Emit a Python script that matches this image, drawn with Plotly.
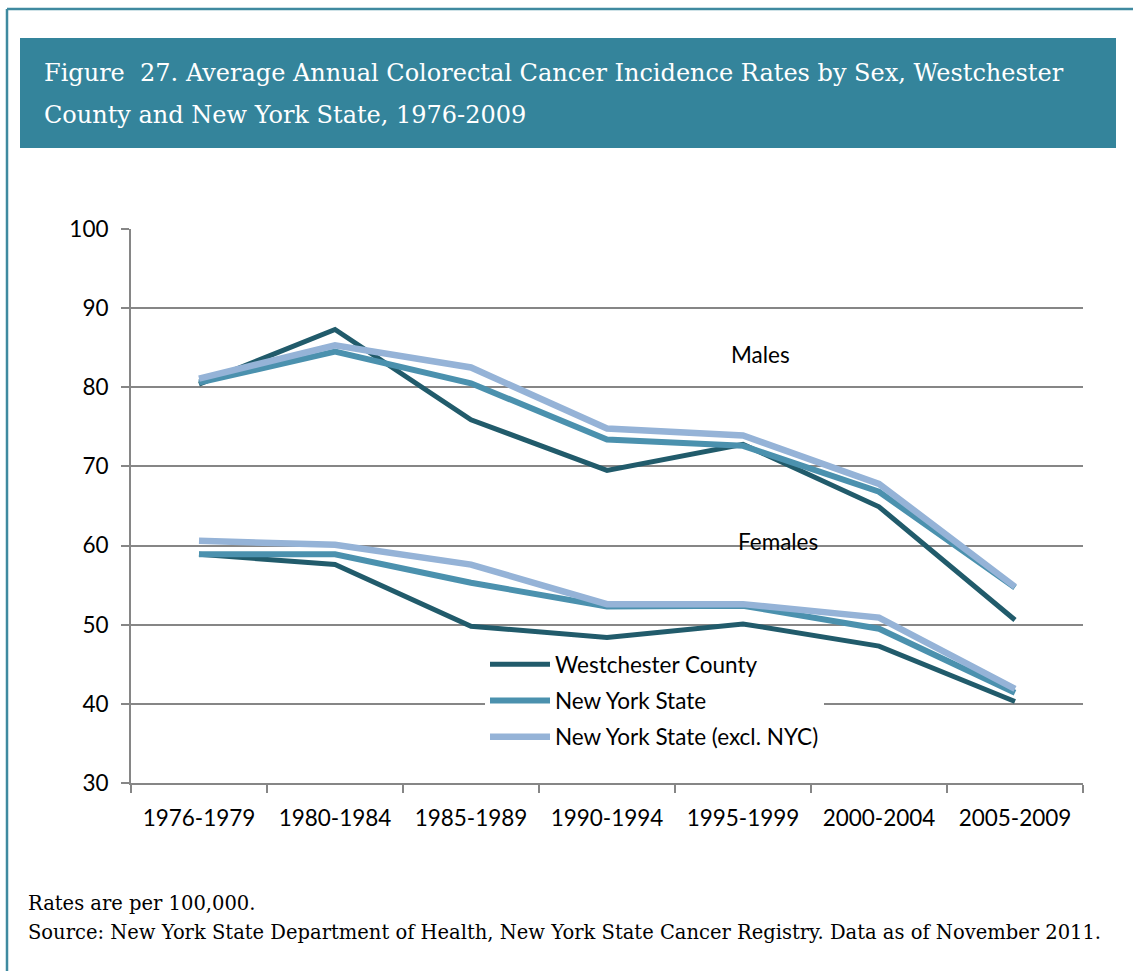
import plotly.graph_objects as go

periods = ["1976-1979", "1980-1984", "1985-1989", "1990-1994", "1995-1999", "2000-2004", "2005-2009"]

westchester_males = [80.4, 87.3, 75.9, 69.5, 72.8, 64.9, 50.6]
nys_males = [80.6, 84.5, 80.5, 73.4, 72.6, 66.8, 54.7]
nys_excl_nyc_males = [81.1, 85.3, 82.5, 74.8, 73.9, 67.8, 54.8]

westchester_females = [58.9, 57.6, 49.8, 48.4, 50.1, 47.3, 40.3]
nys_females = [58.9, 58.9, 55.3, 52.3, 52.4, 49.5, 41.4]
nys_excl_nyc_females = [60.6, 60.1, 57.6, 52.6, 52.6, 50.9, 41.9]

series_names = ["Westchester County", "New York State", "New York State (excl. NYC)"]
colors = ["#215B6B", "#4B91AE", "#95B3D7"]
widths = [5, 6, 6.5]

W, H = 1133, 971
L, R, T, B = 131, 1083, 229, 783


def px(x):
    return (x - L) / (R - L)


def py(y):
    return (B - y) / (B - T)


fig = go.Figure()
males = [westchester_males, nys_males, nys_excl_nyc_males]
females = [westchester_females, nys_females, nys_excl_nyc_females]
for i, name in enumerate(series_names):
    fig.add_trace(go.Scatter(x=periods, y=females[i], mode="lines", name=name,
                             legendgroup=name, showlegend=True,
                             line=dict(color=colors[i], width=widths[i])))
    fig.add_trace(go.Scatter(x=periods, y=males[i], mode="lines", name=name,
                             legendgroup=name, showlegend=False,
                             line=dict(color=colors[i], width=widths[i])))

grey = "#868686"
sans = "Lato"
fig.update_xaxes(type="category", range=[-0.5, 6.5], showgrid=False,
                 showline=True, linecolor=grey, linewidth=2,
                 ticks="outside", tickson="boundaries", ticklen=8, tickwidth=2, tickcolor=grey,
                 tickfont=dict(family=sans, size=22.5, color="#000000"),
                 ticklabelstandoff=14)
fig.update_yaxes(range=[30, 100], dtick=10, showgrid=True, gridcolor=grey, gridwidth=2,
                 showline=True, linecolor=grey, linewidth=2, zeroline=False,
                 ticks="outside", ticklen=8, tickwidth=2, tickcolor=grey,
                 tickfont=dict(family=sans, size=22.5, color="#000000"),
                 ticklabelstandoff=8)

teal = "#34849B"
shapes = [
    dict(type="line", xref="paper", yref="paper", x0=px(7), x1=px(1133), y0=py(9), y1=py(9),
         line=dict(color="#3F8AA0", width=2.5)),
    dict(type="line", xref="paper", yref="paper", x0=px(7), x1=px(7), y0=py(9), y1=py(971),
         line=dict(color="#3F8AA0", width=2.5)),
    dict(type="rect", xref="paper", yref="paper", x0=px(20), x1=px(1116), y0=py(148), y1=py(38),
         fillcolor=teal, line=dict(width=0), layer="below"),
]

serif = "DejaVu Serif"
annotations = [
    dict(text="Figure  27. Average Annual Colorectal Cancer Incidence Rates by Sex, Westchester",
         xref="paper", yref="paper", x=px(42), y=py(73), xanchor="left", yanchor="middle",
         showarrow=False, font=dict(family=serif, size=24, color="white")),
    dict(text="County and New York State, 1976-2009",
         xref="paper", yref="paper", x=px(42), y=py(115), xanchor="left", yanchor="middle",
         showarrow=False, font=dict(family=serif, size=24, color="white")),
    dict(text="Males", x=4.13, y=84.2, xref="x", yref="y", showarrow=False,
         font=dict(family=sans, size=22.5, color="#000000")),
    dict(text="Females", x=4.26, y=60.5, xref="x", yref="y", showarrow=False,
         font=dict(family=sans, size=22.5, color="#000000")),
    dict(text="Rates are per 100,000.", xref="paper", yref="paper", x=px(26), y=py(903),
         xanchor="left", yanchor="middle", showarrow=False,
         font=dict(family=serif, size=19.5, color="#000000")),
    dict(text="Source: New York State Department of Health, New York State Cancer Registry. Data as of November 2011.",
         xref="paper", yref="paper", x=px(26), y=py(932), xanchor="left", yanchor="middle",
         showarrow=False, font=dict(family=serif, size=19.5, color="#000000")),
]

fig.update_layout(
    width=W, height=H,
    margin=dict(l=L, r=W - R, t=T, b=H - B),
    paper_bgcolor="white", plot_bgcolor="white",
    shapes=shapes, annotations=annotations,
    legend=dict(x=px(485), y=py(643), xanchor="left", yanchor="top",
                bgcolor="white", traceorder="grouped", tracegroupgap=4,
                itemwidth=60,
                font=dict(family=sans, size=22.5, color="#000000")),
)

fig.write_html("out.html", config={"displayModeBar": False},
               post_script="document.body.style.margin='0';")
